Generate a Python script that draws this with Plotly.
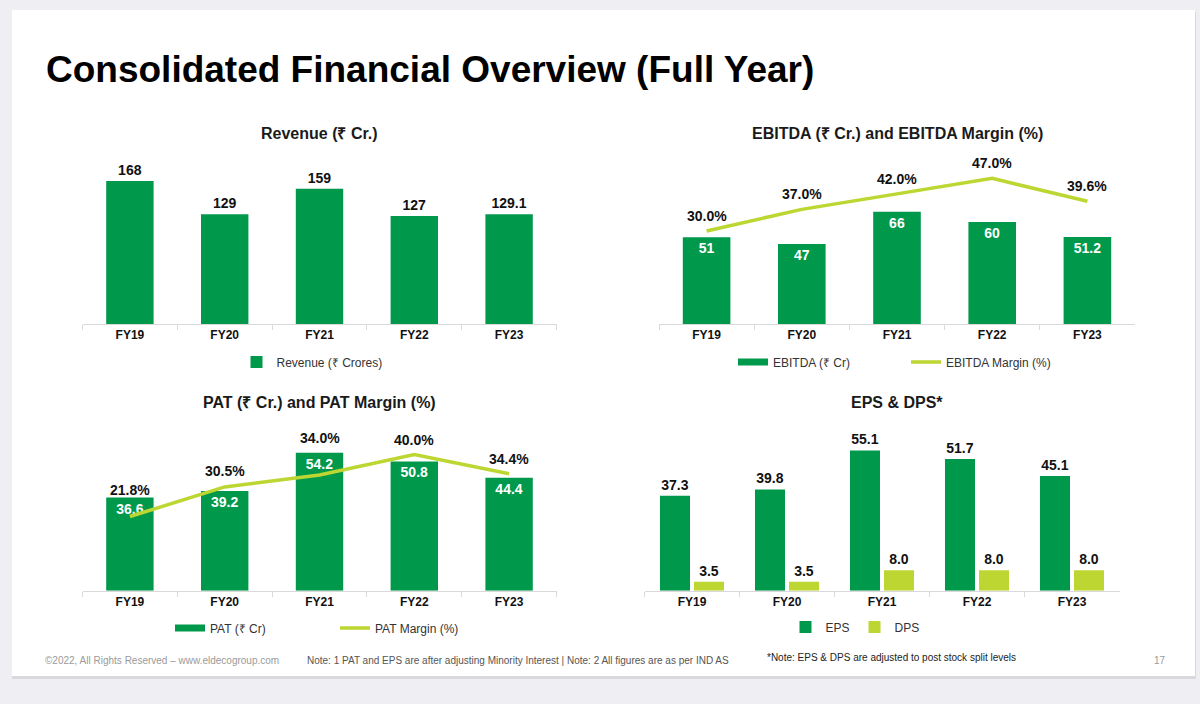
import plotly.graph_objects as go

# ---------------- data ----------------
years = ["FY19", "FY20", "FY21", "FY22", "FY23"]
revenue = [168, 129, 159, 127, 129.1]
ebitda = [51, 47, 66, 60, 51.2]
ebitda_margin = [30.0, 37.0, 42.0, 47.0, 39.6]
pat = [36.6, 39.2, 54.2, 50.8, 44.4]
pat_margin = [21.8, 30.5, 34.0, 40.0, 34.4]
eps = [37.3, 39.8, 55.1, 51.7, 45.1]
dps = [3.5, 3.5, 8.0, 8.0, 8.0]

# label offsets (px above line points), style only
ebitda_label_shift = [15, 15, 15, 15, 15]
pat_label_shift = [27, 16, 37, 15, 15]

GREEN = "#00994c"
LIME = "#bdd631"
FONT = "Arial, Liberation Sans, sans-serif"
W, H = 1200, 704


def px(x):
    return x / W


def py(y):
    return 1 - y / H


fig = go.Figure()

# ---------- Revenue ----------
fig.add_trace(go.Bar(
    x=years, y=revenue, xaxis="x", yaxis="y", width=0.5,
    marker=dict(color=GREEN, line=dict(width=0)),
    text=[f"{v:g}" for v in revenue], textposition="outside",
    textfont=dict(family=FONT, size=14, color="#111111", weight="bold"),
    cliponaxis=False, name="Revenue (₹ Crores)", legend="legend",
))

# ---------- EBITDA ----------
fig.add_trace(go.Bar(
    x=years, y=ebitda, xaxis="x2", yaxis="y2", width=0.5,
    marker=dict(color=GREEN, line=dict(width=0)),
    text=[f"{v:g}" for v in ebitda], textposition="inside", insidetextanchor="end",
    textangle=0, constraintext="none",
    insidetextfont=dict(family=FONT, size=14, color="white", weight="bold"),
    showlegend=False, name="EBITDA (₹ Cr)",
))
fig.add_trace(go.Scatter(
    x=[None], y=[None], xaxis="x2", yaxis="y2", mode="lines",
    line=dict(color=GREEN, width=7), name="EBITDA (₹ Cr)", legend="legend2",
))
fig.add_trace(go.Scatter(
    x=years, y=ebitda_margin, xaxis="x2", yaxis="y3", mode="lines",
    line=dict(color=LIME, width=3.5), cliponaxis=False,
    name="EBITDA Margin (%)", legend="legend2",
))

# ---------- PAT ----------
fig.add_trace(go.Bar(
    x=years, y=pat, xaxis="x3", yaxis="y4", width=0.5,
    marker=dict(color=GREEN, line=dict(width=0)),
    text=[f"{v:.1f}" for v in pat], textposition="inside", insidetextanchor="end",
    textangle=0, constraintext="none",
    insidetextfont=dict(family=FONT, size=14, color="white", weight="bold"),
    showlegend=False, name="PAT (₹ Cr)",
))
fig.add_trace(go.Scatter(
    x=[None], y=[None], xaxis="x3", yaxis="y4", mode="lines",
    line=dict(color=GREEN, width=7), name="PAT (₹ Cr)", legend="legend3",
))
fig.add_trace(go.Scatter(
    x=years, y=pat_margin, xaxis="x3", yaxis="y5", mode="lines",
    line=dict(color=LIME, width=3.5), cliponaxis=False,
    name="PAT Margin (%)", legend="legend3",
))

# ---------- EPS & DPS ----------
fig.add_trace(go.Bar(
    x=years, y=eps, xaxis="x4", yaxis="y6", width=0.316, offset=-0.337,
    marker=dict(color=GREEN, line=dict(width=0)),
    text=[f"{v:.1f}" for v in eps], textposition="outside",
    textfont=dict(family=FONT, size=14, color="#111111", weight="bold"),
    cliponaxis=False, name="EPS", legend="legend4",
))
fig.add_trace(go.Bar(
    x=years, y=dps, xaxis="x4", yaxis="y6", width=0.316, offset=0.021,
    marker=dict(color=LIME, line=dict(width=0)),
    text=[f"{v:.1f}" for v in dps], textposition="outside",
    textfont=dict(family=FONT, size=14, color="#111111", weight="bold"),
    cliponaxis=False, name="DPS", legend="legend4",
))

annotations = []
label_font = dict(family=FONT, size=14, color="#111111", weight="bold")
for yr, m, s in zip(years, ebitda_margin, ebitda_label_shift):
    annotations.append(dict(x=yr, y=m, xref="x2", yref="y3", text=f"{m:.1f}%",
                            showarrow=False, yshift=s, yanchor="middle", font=label_font))
for yr, m, s in zip(years, pat_margin, pat_label_shift):
    annotations.append(dict(x=yr, y=m, xref="x3", yref="y5", text=f"{m:.1f}%",
                            showarrow=False, yshift=s, yanchor="middle", font=label_font))

# subplot titles
sub_font = dict(family=FONT, size=16, color="#1a1a1a", weight="bold")
for txt, x, y in [("Revenue (₹ Cr.)", 319.5, 133),
                  ("EBITDA (₹ Cr.) and EBITDA Margin (%)", 897, 133),
                  ("PAT (₹ Cr.) and PAT Margin (%)", 319.5, 403),
                  ("EPS & DPS*", 897, 403)]:
    annotations.append(dict(x=px(x), y=py(y), xref="paper", yref="paper", text=txt,
                            showarrow=False, xanchor="center", yanchor="middle", font=sub_font))

# page title
annotations.append(dict(x=px(44), y=py(69), xref="paper", yref="paper",
                        text="Consolidated Financial Overview (Full Year)", showarrow=False,
                        xanchor="left", yanchor="middle",
                        font=dict(family=FONT, size=37, color="#000000", weight="bold")))

# footer
annotations += [
    dict(x=px(43), y=py(660), xref="paper", yref="paper",
         text="©2022, All Rights Reserved – www.eldecogroup.com", showarrow=False,
         xanchor="left", yanchor="middle", font=dict(family=FONT, size=10, color="#9a9a9a")),
    dict(x=px(305), y=py(660), xref="paper", yref="paper",
         text="Note: 1 PAT and EPS are after adjusting Minority Interest | Note: 2 All figures are as per IND AS",
         showarrow=False, xanchor="left", yanchor="middle",
         font=dict(family=FONT, size=10, color="#555555")),
    dict(x=px(765), y=py(657), xref="paper", yref="paper",
         text="*Note: EPS & DPS are adjusted to post stock split levels", showarrow=False,
         xanchor="left", yanchor="middle", font=dict(family=FONT, size=10, color="#222222")),
    dict(x=px(1160), y=py(660), xref="paper", yref="paper", text="17", showarrow=False,
         xanchor="center", yanchor="middle", font=dict(family=FONT, size=10, color="#9a9a9a")),
]


def xaxis(domain, anchor):
    return dict(domain=domain, anchor=anchor, type="category", showgrid=False,
                showline=True, linecolor="#d9d9d9", linewidth=1,
                ticks="outside", tickson="boundaries", ticklen=5, tickcolor="#d9d9d9",
                tickfont=dict(family=FONT, size=12, color="#111111", weight="bold"),
                zeroline=False, fixedrange=True)


def yaxis(domain, rng, anchor, overlaying=None):
    d = dict(domain=domain, range=rng, anchor=anchor, visible=False, showgrid=False,
             zeroline=False, fixedrange=True)
    if overlaying:
        d.update(overlaying=overlaying, side="right")
    return d


top = [py(324), py(170)]
bot = [py(590.7), py(440)]
xl = [px(82.5), px(556.5)]
xr_top = [px(659), px(1135)]
xr_bot = [px(644.5), px(1119.5)]

legend_common = dict(orientation="h", bgcolor="rgba(0,0,0,0)",
                     font=dict(family=FONT, size=12, color="#333333"),
                     xanchor="center", yanchor="middle", itemclick=False, itemdoubleclick=False)

fig.update_layout(
    width=W, height=H, margin=dict(l=0, r=0, t=0, b=0),
    paper_bgcolor="#efeef3", plot_bgcolor="rgba(0,0,0,0)",
    barmode="group", font=dict(family=FONT),
    xaxis=xaxis(xl, "y"), yaxis=yaxis(top, [0, 181], "x"),
    xaxis2=xaxis(xr_top, "y2"), yaxis2=yaxis(top, [0, 90.6], "x2"),
    yaxis3=yaxis(top, [0, 49.7], "x2", overlaying="y2"),
    xaxis3=xaxis(xl, "y4"), yaxis4=yaxis(bot, [0, 59.2], "x3"),
    yaxis5=yaxis(bot, [0, 44.3], "x3", overlaying="y4"),
    xaxis4=xaxis(xr_bot, "y6"), yaxis6=yaxis(bot, [0, 59.2], "x4"),
    legend=dict(legend_common, x=px(312), y=py(362)),
    legend2=dict(legend_common, x=px(906), y=py(362), entrywidth=128),
    legend3=dict(legend_common, x=px(335), y=py(628), entrywidth=120),
    legend4=dict(legend_common, x=px(855), y=py(627)),
    annotations=annotations,
    shapes=[
        dict(type="rect", xref="paper", yref="paper", x0=px(12), x1=px(1196),
             y0=py(679), y1=py(12), fillcolor="#d9d8dd", line=dict(width=0), layer="below"),
        dict(type="rect", xref="paper", yref="paper", x0=px(12), x1=px(1195),
             y0=py(676), y1=py(10), fillcolor="#ffffff", line=dict(width=0), layer="below"),
    ],
)

fig.write_html("out.html")
